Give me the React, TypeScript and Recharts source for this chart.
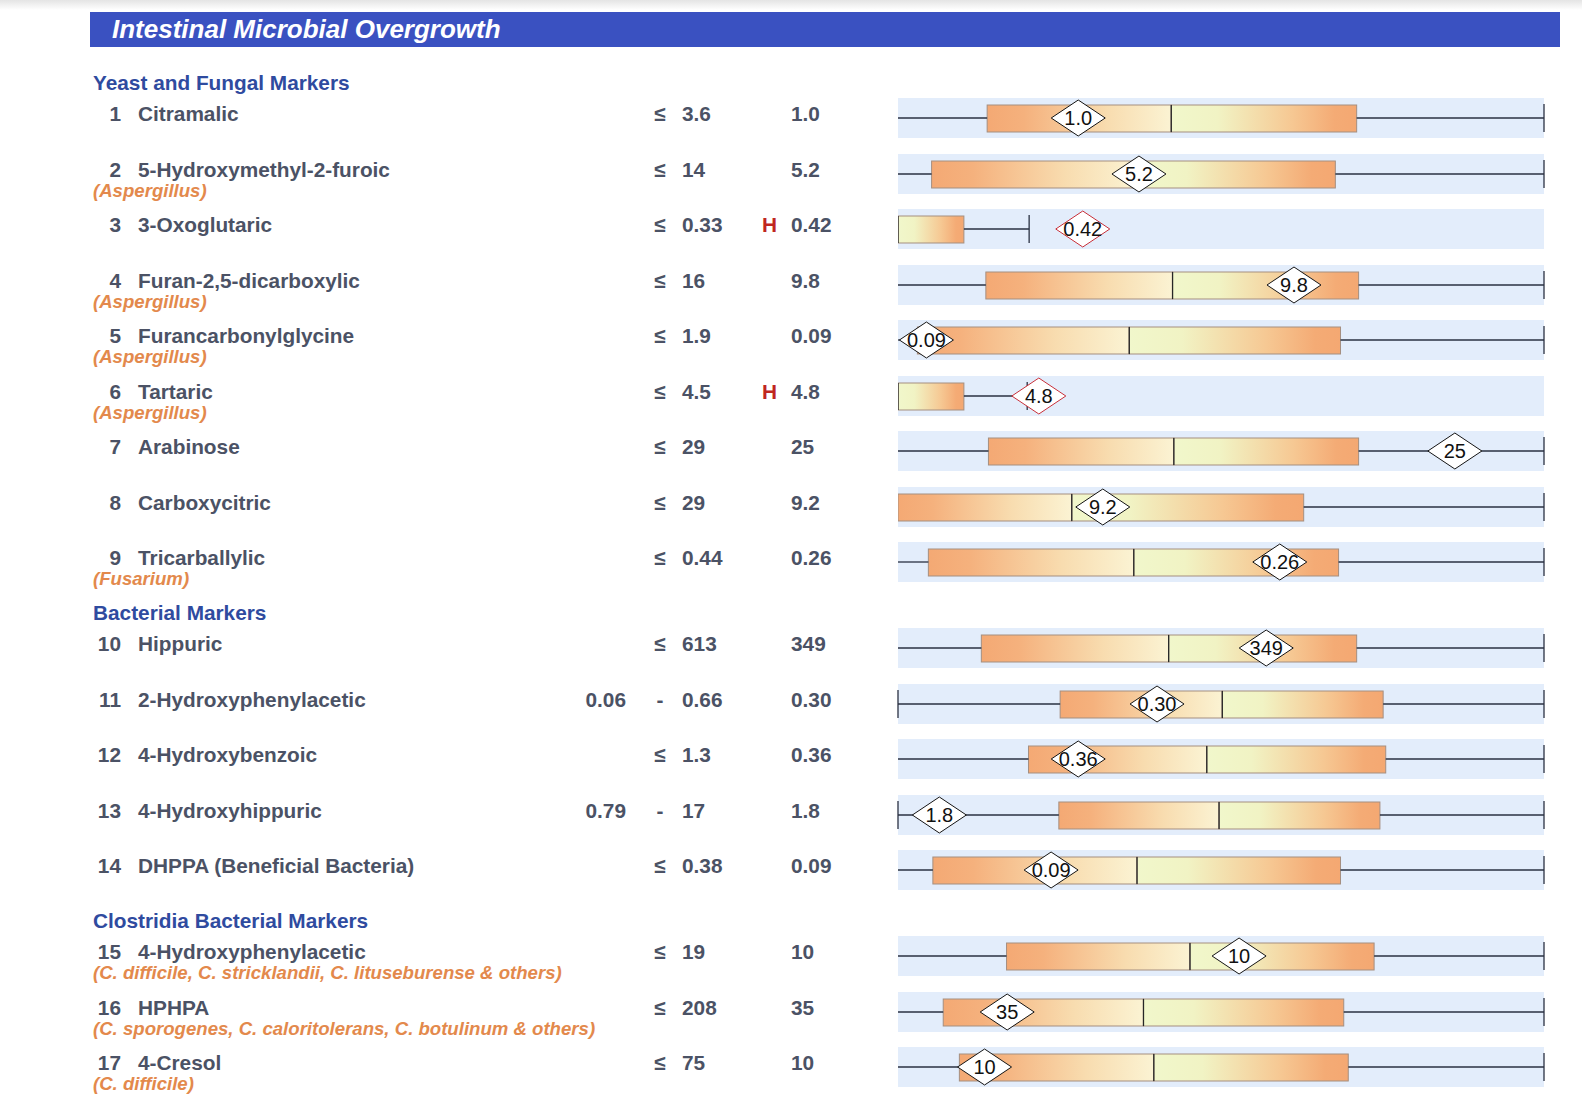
import { Bar, ComposedChart, ReferenceLine, Scatter, XAxis, YAxis } from "recharts";

const sections = ["Yeast and Fungal Markers", "Bacterial Markers", "Clostridia Bacterial Markers"];
const sectionSizes = [9, 5, 3];

const markers = [
  "Citramalic",
  "5-Hydroxymethyl-2-furoic",
  "3-Oxoglutaric",
  "Furan-2,5-dicarboxylic",
  "Furancarbonylglycine",
  "Tartaric",
  "Arabinose",
  "Carboxycitric",
  "Tricarballylic",
  "Hippuric",
  "2-Hydroxyphenylacetic",
  "4-Hydroxybenzoic",
  "4-Hydroxyhippuric",
  "DHPPA (Beneficial Bacteria)",
  "4-Hydroxyphenylacetic",
  "HPHPA",
  "4-Cresol",
];
const organisms = [
  "", "(Aspergillus)", "", "(Aspergillus)", "(Aspergillus)", "(Aspergillus)", "", "", "(Fusarium)",
  "", "", "", "", "",
  "(C. difficile, C. stricklandii, C. lituseburense & others)",
  "(C. sporogenes, C. caloritolerans, C. botulinum & others)",
  "(C. difficile)",
];
const refLow = ["", "", "", "", "", "", "", "", "", "", "0.06", "", "0.79", "", "", "", ""];
const refHigh = ["3.6", "14", "0.33", "16", "1.9", "4.5", "29", "29", "0.44", "613", "0.66", "1.3", "17", "0.38", "19", "208", "75"];
const flags = ["", "", "H", "", "", "H", "", "", "", "", "", "", "", "", "", "", ""];
const results = ["1.0", "5.2", "0.42", "9.8", "0.09", "4.8", "25", "9.2", "0.26", "349", "0.30", "0.36", "1.8", "0.09", "10", "35", "10"];

// position on each marker's own percentile scale (0-100)
const whiskerLow = [0, 0, null, 0, 0, null, 0, null, 0, 0, 0, 0, 0, 0, 0, 0, 0];
const lowCap = [false, false, false, false, false, false, false, false, false, false, true, false, true, false, false, false, false];
const boxLow = [13.8, 5.2, 0, 13.6, 3, 0, 14.0, 0, 4.7, 12.9, 25.1, 20.2, 24.9, 5.4, 16.8, 7.0, 9.5];
const boxMid = [42.3, 37, 0, 42.5, 35.8, 0, 42.7, 26.9, 36.5, 41.9, 50.2, 47.8, 49.7, 37.0, 45.2, 38.0, 39.6];
const boxHigh = [71.0, 67.7, 10.2, 71.3, 68.5, 10.2, 71.3, 62.8, 68.2, 71.0, 75.1, 75.5, 74.6, 68.5, 73.7, 69.0, 69.7];
const whiskerHigh = [100, 100, 20.3, 100, 100, 20, 100, 100, 100, 100, 100, 100, 100, 100, 100, 100, 100];
const patientPos = [27.9, 37.3, 28.6, 61.3, 4.4, 21.8, 86.2, 31.7, 59.1, 57.0, 40.1, 27.9, 6.4, 23.7, 52.8, 16.9, 13.4];

const FONT = '"Liberation Sans", Arial, Helvetica, sans-serif';
const TEXT = "#4b5265";
const SECTION_BLUE = "#2f4b9f";
const ORANGE = "#e3894c";
const LINE = "#2a3142";

function Diamond(props: any) {
  const { cx, cy, payload } = props;
  if (cx == null || cy == null) return null;
  const stroke = payload.high ? "#c8303a" : "#151515";
  return (
    <g>
      <polygon
        points={`${cx - 27},${cy} ${cx},${cy - 18} ${cx + 27},${cy} ${cx},${cy + 18}`}
        fill="#ffffff"
        stroke={stroke}
        strokeWidth={1}
      />
      <text x={cx} y={cy} dy="0.36em" textAnchor="middle" fontSize={20} fontFamily={FONT} fill="#111">
        {payload.label}
      </text>
    </g>
  );
}

function LowerBox(props: any) {
  const { x, y, width, height } = props;
  if (!width || width <= 0) return null;
  return <rect x={x} y={y} width={width} height={height} fill="url(#boxLower)" stroke="#a58f80" strokeWidth={1} />;
}

function UpperBox(props: any) {
  const { x, y, width, height } = props;
  if (!width || width <= 0) return null;
  return (
    <g>
      <rect x={x} y={y} width={width} height={height} fill="url(#boxUpper)" stroke="#a58f80" strokeWidth={1} />
      <line x1={x} x2={x} y1={y} y2={y + height} stroke="#262626" strokeWidth={1.3} />
    </g>
  );
}

function MarkerChart({ i }: { i: number }) {
  const row = {
    name: markers[i],
    pad: boxLow[i],
    lower: boxMid[i] - boxLow[i],
    upper: boxHigh[i] - boxMid[i],
    patient: patientPos[i],
    label: results[i],
    high: flags[i] === "H",
  };
  const wl = whiskerLow[i];
  return (
    <ComposedChart
      width={648}
      height={40}
      data={[row]}
      layout="vertical"
      margin={{ top: 6, right: 1, bottom: 6, left: 1 }}
    >
      <XAxis type="number" domain={[0, 100]} hide allowDataOverflow />
      <YAxis type="category" dataKey="name" hide />
      {wl != null && (
        <ReferenceLine
          segment={[{ x: wl, y: row.name }, { x: boxLow[i], y: row.name }]}
          stroke={LINE}
          strokeWidth={1.3}
        />
      )}
      {wl != null && lowCap[i] && <ReferenceLine x={wl} stroke={LINE} strokeWidth={1.3} />}
      <ReferenceLine
        segment={[{ x: boxHigh[i], y: row.name }, { x: whiskerHigh[i], y: row.name }]}
        stroke={LINE}
        strokeWidth={1.3}
      />
      <ReferenceLine x={whiskerHigh[i]} stroke={LINE} strokeWidth={1.3} />
      <Bar dataKey="pad" stackId="box" fill="transparent" barSize={27} isAnimationActive={false} />
      <Bar dataKey="lower" stackId="box" shape={LowerBox} barSize={27} isAnimationActive={false} />
      <Bar dataKey="upper" stackId="box" shape={UpperBox} barSize={27} isAnimationActive={false} />
      <Scatter dataKey="patient" shape={Diamond} isAnimationActive={false} />
    </ComposedChart>
  );
}

export default function App() {
  const headerCenters: number[] = [];
  const rowCenters: number[] = [];
  let y = 83;
  sectionSizes.forEach((n, s) => {
    headerCenters.push(y);
    y += s === 0 ? 35 : 35.5;
    for (let k = 0; k < n; k++) {
      rowCenters.push(y);
      if (k < n - 1) y += 55.5;
    }
    y += 50.5;
  });

  return (
    <div
      style={{
        position: "absolute",
        left: 0,
        top: 0,
        width: 1582,
        height: 1102,
        background: "#ffffff",
        fontFamily: FONT,
        overflow: "hidden",
      }}
    >
      <svg width={0} height={0} style={{ position: "absolute" }}>
        <defs>
          <linearGradient id="boxLower" x1="0" y1="0" x2="1" y2="0">
            <stop offset="0%" stopColor="#f4a974" />
            <stop offset="20%" stopColor="#f5b17d" />
            <stop offset="65%" stopColor="#f8dcaf" />
            <stop offset="100%" stopColor="#fbf3d3" />
          </linearGradient>
          <linearGradient id="boxUpper" x1="0" y1="0" x2="1" y2="0">
            <stop offset="0%" stopColor="#f1f7cb" />
            <stop offset="25%" stopColor="#f1f3c4" />
            <stop offset="65%" stopColor="#f6c893" />
            <stop offset="88%" stopColor="#f4ab75" />
            <stop offset="100%" stopColor="#f4a872" />
          </linearGradient>
        </defs>
      </svg>
      <div
        style={{
          position: "absolute",
          left: 0,
          top: 0,
          width: 1582,
          height: 10,
          background: "linear-gradient(#e4e4e4, #ffffff)",
        }}
      />
      <div
        style={{
          position: "absolute",
          left: 90,
          top: 12,
          width: 1470,
          height: 35,
          background: "#3a51c1",
        }}
      />
      <div
        style={{
          position: "absolute",
          left: 112,
          top: 13,
          lineHeight: "33px",
          fontSize: 26,
          fontWeight: 700,
          fontStyle: "italic",
          color: "#ffffff",
        }}
      >
        Intestinal Microbial Overgrowth
      </div>

      {sections.map((s, k) => (
        <div
          key={s}
          style={{
            position: "absolute",
            left: 93,
            top: headerCenters[k] - 12,
            lineHeight: "24px",
            fontSize: 20.8,
            fontWeight: 700,
            color: SECTION_BLUE,
          }}
        >
          {s}
        </div>
      ))}

      {markers.map((m, i) => {
        const c = rowCenters[i];
        const textTop = c - 16;
        const cell = { position: "absolute" as const, top: textTop, lineHeight: "24px", fontSize: 20.8, fontWeight: 700, color: TEXT };
        return (
          <div key={m + i}>
            <div style={{ ...cell, left: 61, width: 60, textAlign: "right" }}>{i + 1}</div>
            <div style={{ ...cell, left: 138, whiteSpace: "nowrap" }}>{m}</div>
            {organisms[i] && (
              <div
                style={{
                  position: "absolute",
                  left: 93,
                  top: c + 6,
                  lineHeight: "22px",
                  fontSize: 18.6,
                  fontWeight: 700,
                  fontStyle: "italic",
                  color: ORANGE,
                  whiteSpace: "nowrap",
                }}
              >
                {organisms[i]}
              </div>
            )}
            {refLow[i] && <div style={{ ...cell, left: 566, width: 60, textAlign: "right" }}>{refLow[i]}</div>}
            <div style={{ ...cell, left: 650, width: 20, textAlign: "center" }}>{refLow[i] ? "-" : "≤"}</div>
            <div style={{ ...cell, left: 682 }}>{refHigh[i]}</div>
            {flags[i] && <div style={{ ...cell, left: 762, color: "#c0261f" }}>{flags[i]}</div>}
            <div style={{ ...cell, left: 791 }}>{results[i]}</div>
            <div
              style={{
                position: "absolute",
                left: 897,
                top: c - 20,
                width: 648,
                height: 40,
                background: "linear-gradient(to right, transparent 1px, #e3edfb 1px, #e3edfb 647px, transparent 647px)",
              }}
            >
              <MarkerChart i={i} />
            </div>
          </div>
        );
      })}
    </div>
  );
}
